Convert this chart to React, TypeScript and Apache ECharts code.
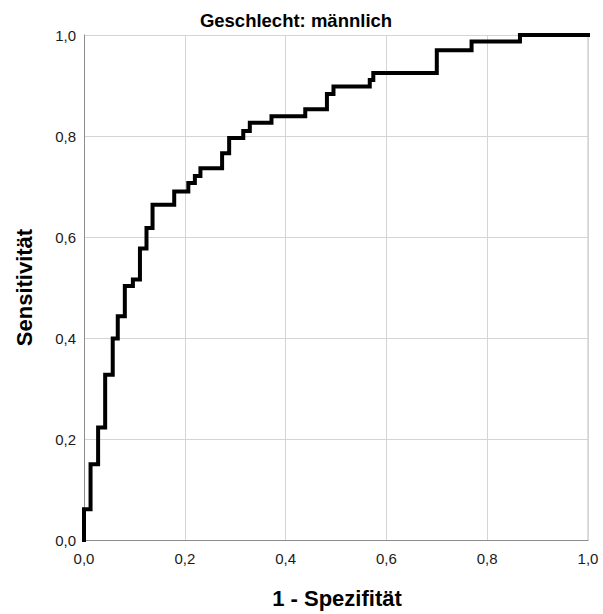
import React, { useEffect, useRef } from "react";
import * as echarts from "echarts";

const chartTitle = "Geschlecht: männlich";
const xAxisName = "1 - Spezifität";
const yAxisName = "Sensitivität";

// ROC curve corner points (1 - specificity, sensitivity)
const fpr = [
  0, 0, 0.013, 0.013, 0.028, 0.028, 0.042, 0.042, 0.057, 0.057,
  0.067, 0.067, 0.081, 0.081, 0.097, 0.097, 0.111, 0.111, 0.124, 0.124,
  0.136, 0.136, 0.179, 0.179, 0.207, 0.207, 0.22, 0.22, 0.231, 0.231,
  0.274, 0.274, 0.288, 0.288, 0.316, 0.316, 0.329, 0.329, 0.372, 0.372,
  0.439, 0.439, 0.482, 0.482, 0.495, 0.495, 0.567, 0.567, 0.574, 0.574,
  0.7, 0.7, 0.769, 0.769, 0.865, 0.865, 1.0,
];
const tpr = [
  0, 0.061, 0.061, 0.15, 0.15, 0.223, 0.223, 0.327, 0.327, 0.399,
  0.399, 0.443, 0.443, 0.503, 0.503, 0.516, 0.516, 0.577, 0.577, 0.618,
  0.618, 0.664, 0.664, 0.69, 0.69, 0.707, 0.707, 0.721, 0.721, 0.736,
  0.736, 0.766, 0.766, 0.796, 0.796, 0.81, 0.81, 0.826, 0.826, 0.839,
  0.839, 0.853, 0.853, 0.883, 0.883, 0.898, 0.898, 0.911, 0.911, 0.925,
  0.925, 0.97, 0.97, 0.987, 0.987, 1.0, 1.0,
];

const FONT = "Arial, 'Liberation Sans', sans-serif";
const fmt = (v: number) => v.toFixed(1).replace(".", ",");

export default function App() {
  const ref = useRef<HTMLDivElement>(null);

  useEffect(() => {
    if (!ref.current) return;
    const chart = echarts.init(ref.current, undefined, { renderer: "svg" });
    const data = fpr.map((x, i) => [x, tpr[i]]);
    chart.setOption({
      animation: false,
      backgroundColor: "#ffffff",
      grid: { left: 84, right: 15, top: 35, bottom: 74, containLabel: false },
      xAxis: {
        type: "value",
        min: 0,
        max: 1,
        interval: 0.2,
        axisLine: { show: true, lineStyle: { color: "#8c8c8c", width: 1 } },
        axisTick: { show: false },
        splitLine: { show: true, lineStyle: { color: "#d4d4d4", width: 1 } },
        axisLabel: {
          formatter: fmt,
          color: "#1a1a1a",
          fontFamily: FONT,
          fontSize: 15,
          margin: 11,
        },
      },
      yAxis: {
        type: "value",
        min: 0,
        max: 1,
        interval: 0.2,
        axisLine: { show: true, lineStyle: { color: "#8c8c8c", width: 1 } },
        axisTick: { show: false },
        splitLine: { show: true, lineStyle: { color: "#d4d4d4", width: 1 } },
        axisLabel: {
          formatter: fmt,
          color: "#1a1a1a",
          fontFamily: FONT,
          fontSize: 15,
          margin: 8,
          padding: [6, 0, 0, 0],
        },
      },
      graphic: [
        {
          type: "rect",
          shape: { x: 588, y: 35, width: 0, height: 505 },
          style: { fill: "none", stroke: "#d4d4d4", lineWidth: 1 },
          silent: true,
          z: 0,
        },
        {
          type: "text",
          x: 296,
          y: 20,
          style: {
            text: chartTitle,
            font: `bold 18.5px ${FONT}`,
            fill: "#000",
            textAlign: "center",
            textVerticalAlign: "middle",
          },
        },
        {
          type: "text",
          x: 337,
          y: 598,
          style: {
            text: xAxisName,
            font: `bold 22px ${FONT}`,
            fill: "#000",
            textAlign: "center",
            textVerticalAlign: "middle",
          },
        },
        {
          type: "text",
          x: 24,
          y: 287.5,
          rotation: Math.PI / 2,
          style: {
            text: yAxisName,
            font: `bold 22px ${FONT}`,
            fill: "#000",
            textAlign: "center",
            textVerticalAlign: "middle",
          },
        },
      ],
      series: [
        {
          type: "line",
          data,
          symbol: "none",
          clip: false,
          lineStyle: { color: "#000", width: 4, join: "miter", cap: "square" },
          z: 5,
        },
      ],
    });
    return () => chart.dispose();
  }, []);

  return (
    <div
      ref={ref}
      style={{ position: "fixed", left: 0, top: 0, width: 603, height: 614 }}
    />
  );
}
